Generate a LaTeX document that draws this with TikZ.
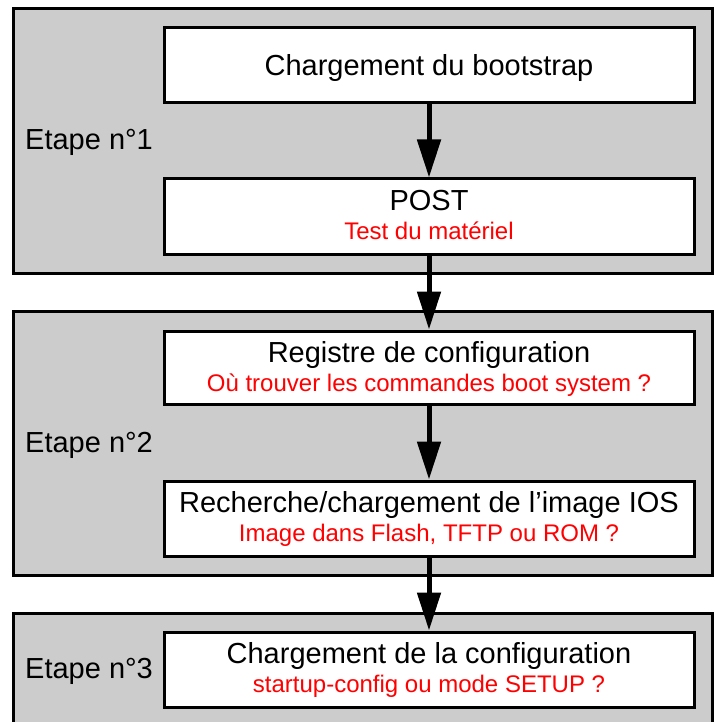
\documentclass[tikz,border=0pt]{standalone}
\usepackage{fontspec}
\setmainfont{Liberation Sans}
\usetikzlibrary{arrows.meta}
\definecolor{stagegray}{HTML}{CCCCCC}
\definecolor{notered}{HTML}{FF0000}
\tikzset{
  stage/.style={draw=black, line width=3pt, fill=stagegray, inner sep=0pt, minimum width=699pt},
  stepbox/.style={draw=black, line width=3pt, fill=white, minimum width=530pt, minimum height=75pt, inner sep=0pt},
  title/.style={inner sep=0pt, anchor=base, font=\fontsize{29}{29}\selectfont},
  note/.style={inner sep=0pt, anchor=base, text=notered, font=\fontsize{24}{24}\selectfont},
  etape/.style={inner sep=0pt, anchor=base west, font=\fontsize{29}{29}\selectfont},
  flow/.style={line width=5pt, -{Triangle[width=23pt,length=38pt]}},
}
\begin{document}
\begin{tikzpicture}[x=1pt,y=-1pt]
\useasboundingbox (0,0) rectangle (714,722);
\clip (0,0) rectangle (714,722);
\fill[white] (0,0) rectangle (714,722);
% stages
\node[stage, minimum height=264pt] (s1) at (362.5,141) {};
\node[stage, minimum height=264pt] (s2) at (362.5,443) {};
\node[stage, minimum height=140pt] (s3) at (362.5,683) {};
% step boxes
\node[stepbox] (a) at (429,65.5) {};
\node[stepbox] (b) at (429,216.5) {};
\node[stepbox, minimum height=73pt] (c) at (429,367.5) {};
\node[stepbox] (d) at (429,518.5) {};
\node[stepbox] (e) at (429,669.5) {};
% texts
\node[title] (ta) at (429,76) {Chargement du bootstrap};
\node[title] (tb) at (429,210) {POST};
\node[note] (nb) at (429,239) {Test du matériel};
\node[title] (tc) at (429,362) {Registre de configuration};
\node[note] (nc) at (429,391) {Où trouver les commandes boot system ?};
\node[title] (td) at (429,512) {Recherche/chargement de l’image IOS};
\node[note] (nd) at (429,541) {Image dans Flash, TFTP ou ROM ?};
\node[title] (te) at (429,663) {Chargement de la configuration};
\node[note] (ne) at (429,692) {startup-config ou mode SETUP ?};
% stage labels
\node[etape] (l1) at (25,150) {Etape n°1};
\node[etape] (l2) at (25,452) {Etape n°2};
\node[etape] (l3) at (25,678) {Etape n°3};
% arrows
\draw[flow] (a.south) -- (b.north);
\draw[flow] (b.south) -- (c.north);
\draw[flow] (c.south) -- (d.north);
\draw[flow] (d.south) -- (e.north);
\end{tikzpicture}
\end{document}
